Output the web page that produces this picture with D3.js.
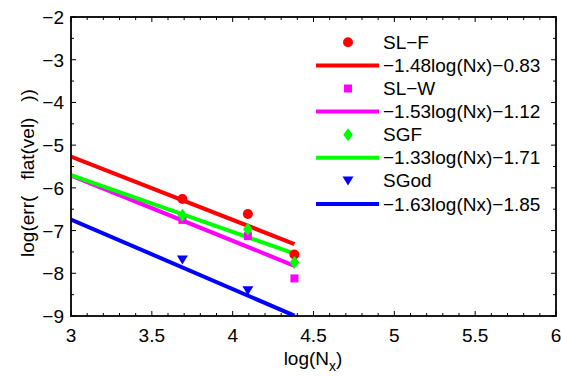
<!DOCTYPE html>
<html><head><meta charset="utf-8">
<script src="https://cdn.jsdelivr.net/npm/d3@7"></script>
<style>body{margin:0;background:#fff}svg{display:block}text{font-family:"Liberation Sans",Arial,sans-serif}</style>
</head><body><svg id="c" width="561" height="377"></svg>
<script>
const logNx = [3.689, 4.094, 4.382];
const seriesNames = ["SL\u2212F", "SL\u2212W", "SGF", "SGod"];
const seriesColors = ["#ff0000", "#ff00ff", "#00ff00", "#0000ff"];
const seriesMarkers = ["circle", "square", "diamond", "triangle"];
const slFValues = [-6.26, -6.61, -7.56];
const slWValues = [-6.75, -7.13, -8.12];
const sgfValues = [-6.64, -6.97, -7.75];
const sgodValues = [-7.69, -8.41, -9.27];
const fitSlopes = [-1.48, -1.53, -1.33, -1.63];
const fitIntercepts = [-0.83, -1.12, -1.71, -1.85];
const fitLabels = ["\u22121.48log(Nx)\u22120.83", "\u22121.53log(Nx)\u22121.12", "\u22121.33log(Nx)\u22121.71", "\u22121.63log(Nx)\u22121.85"];
const fitRange = [3, 4.382];
const xTicks = [3, 3.5, 4, 4.5, 5, 5.5, 6];
const yTicks = [-2, -3, -4, -5, -6, -7, -8, -9];
const allValues = [slFValues, slWValues, sgfValues, sgodValues];

const svg = d3.select("#c");
const L = 71, R = 556, T = 17, B = 316;
const x = d3.scaleLinear().domain([3, 6]).range([L, R]);
const y = d3.scaleLinear().domain([-9, -2]).range([B, T]);

svg.append("defs").append("clipPath").attr("id", "clip")
  .append("rect").attr("x", L).attr("y", T).attr("width", R - L).attr("height", B - T);

const plot = svg.append("g").attr("clip-path", "url(#clip)");

fitSlopes.forEach((a, i) => {
  plot.append("line")
    .attr("x1", x(fitRange[0])).attr("y1", y(a * fitRange[0] + fitIntercepts[i]))
    .attr("x2", x(fitRange[1])).attr("y2", y(a * fitRange[1] + fitIntercepts[i]))
    .attr("stroke", seriesColors[i]).attr("stroke-width", 4);
});

function marker(g, type, cx, cy, color) {
  if (type === "circle") g.append("circle").attr("cx", cx).attr("cy", cy).attr("r", 5).attr("fill", color);
  else if (type === "square") g.append("rect").attr("x", cx - 4).attr("y", cy - 4).attr("width", 8).attr("height", 8).attr("fill", color);
  else if (type === "diamond") g.append("path").attr("d", `M${cx},${cy-6.5}L${cx+4.8},${cy}L${cx},${cy+6.5}L${cx-4.8},${cy}Z`).attr("fill", color);
  else g.append("path").attr("d", `M${cx-5.5},${cy-4.5}L${cx+5.5},${cy-4.5}L${cx},${cy+4.5}Z`).attr("fill", color);
}

allValues.forEach((vals, i) => {
  vals.forEach((v, j) => marker(plot, seriesMarkers[i], x(logNx[j]), y(v), seriesColors[i]));
});

const ax = svg.append("g").attr("stroke", "#000").attr("fill", "none");
ax.append("rect").attr("x", L).attr("y", T).attr("width", R - L).attr("height", B - T).attr("stroke-width", 1.8);

d3.range(30, 61).map(d => d / 10).forEach(v => {
  const major = Math.abs(v * 2 - Math.round(v * 2)) < 1e-6;
  const len = major ? 5 : 3;
  ax.append("line").attr("x1", x(v)).attr("x2", x(v)).attr("y1", B).attr("y2", B - len);
  ax.append("line").attr("x1", x(v)).attr("x2", x(v)).attr("y1", T).attr("y2", T + len);
});
d3.range(-18, -3).map(d => d / 2).forEach(v => {
  const major = Number.isInteger(v);
  const len = major ? 5 : 3;
  ax.append("line").attr("y1", y(v)).attr("y2", y(v)).attr("x1", L).attr("x2", L + len);
  ax.append("line").attr("y1", y(v)).attr("y2", y(v)).attr("x1", R).attr("x2", R - len);
});

const fs = 19;
xTicks.forEach(v => {
  svg.append("text").attr("x", x(v)).attr("y", B + 26).attr("text-anchor", "middle")
    .attr("font-size", fs).text(String(v));
});
yTicks.forEach(v => {
  svg.append("text").attr("x", L - 7).attr("y", y(v) + 7).attr("text-anchor", "end")
    .attr("font-size", fs).text("\u2212" + Math.abs(v));
});

const xl = svg.append("text").attr("x", 313).attr("y", 365).attr("text-anchor", "middle").attr("font-size", fs);
xl.append("tspan").text("log(N");
xl.append("tspan").attr("font-size", 14).attr("dy", 6).text("x");
xl.append("tspan").attr("dy", -6).text(")");

svg.append("text").attr("transform", "translate(34,173) rotate(-90)").attr("text-anchor", "middle")
  .attr("font-size", fs).style("white-space", "pre").text("log(err(   flat(vel)   ))");

const rowH = 23.1, legTop = 42.3;
seriesNames.forEach((name, i) => {
  const ym = legTop + rowH * 2 * i, yl = ym + rowH;
  marker(svg, seriesMarkers[i], 348, ym, seriesColors[i]);
  svg.append("text").attr("x", 383).attr("y", ym + 6.5).attr("font-size", fs).text(name);
  svg.append("line").attr("x1", 316).attr("x2", 379).attr("y1", yl).attr("y2", yl)
    .attr("stroke", seriesColors[i]).attr("stroke-width", 4);
  svg.append("text").attr("x", 383).attr("y", yl + 6.5).attr("font-size", fs).text(fitLabels[i]);
});
</script></body></html>
